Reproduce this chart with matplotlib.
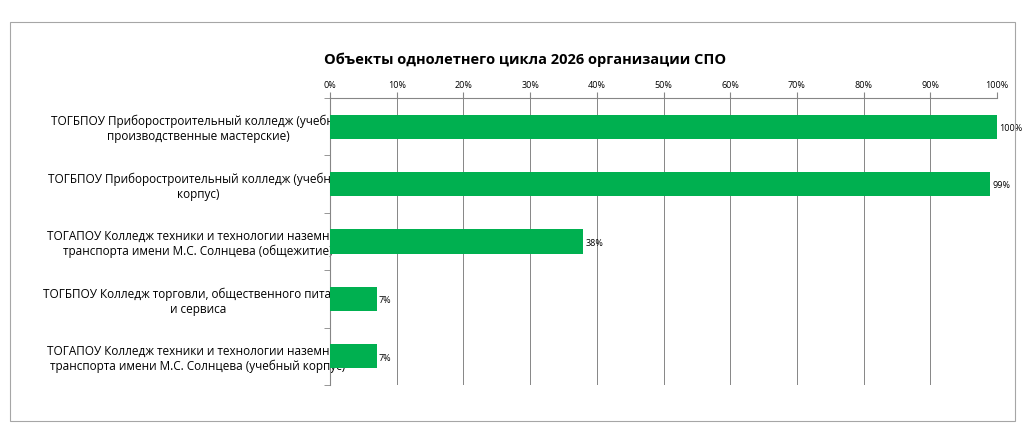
import numpy as np
import matplotlib.pyplot as plt
from matplotlib.patches import Rectangle

# ============================================================
# Data
# ============================================================
labels = [
    "ТОГБПОУ Приборостроительный колледж (учебно-\nпроизводственные мастерские)",
    "ТОГБПОУ Приборостроительный колледж (учебный\nкорпус)",
    "ТОГАПОУ Колледж техники и технологии наземного\nтранспорта имени М.С. Солнцева (общежитие)",
    "ТОГБПОУ Колледж торговли, общественного питания\nи сервиса",
    "ТОГАПОУ Колледж техники и технологии наземного\nтранспорта имени М.С. Солнцева (учебный корпус)",
]
values = [100, 99, 38, 7, 7]
ticks = list(range(0, 101, 10))
title = "Объекты однолетнего цикла 2026 организации СПО"

plt.rcParams['font.family'] = ['Open Sans', 'DejaVu Sans']

fig = plt.figure(figsize=(10.24, 4.45), dpi=100)
fig.patches.append(Rectangle((10 / 1024, 1 - 421 / 445), 1005 / 1024, 399 / 445,
                             transform=fig.transFigure, fill=False,
                             edgecolor="#a6a6a6", linewidth=0.8))
ax = fig.add_axes([330 / 1024, 1 - 385 / 445, 667 / 1024, 287 / 445])

y = np.arange(len(labels))
ax.barh(y, values, height=0.42, color="#00b050", zorder=3)
for yi, v in zip(y, values):
    ax.text(v + 0.3, yi + 0.03, f"{v}%", va="center", ha="left", fontsize=6.5, zorder=4)

ax.set_xlim(0, 100)
ax.set_ylim(len(labels) - 0.5, -0.5)
ax.xaxis.tick_top()
ax.set_xticks(ticks)
ax.set_xticklabels([f"{t}%" for t in ticks], fontsize=6.5)
ax.set_yticks(y)
ax.set_yticklabels(labels, fontsize=8.5, ha="center")
ax.tick_params(axis="y", length=0, pad=95)
ax.set_yticks(np.arange(-0.5, len(labels), 1), minor=True)
ax.tick_params(axis="y", which="minor", length=4, color="#868686")
ax.tick_params(axis="x", length=4, color="#868686", pad=2)
ax.grid(axis="x", color="#868686", linewidth=0.7, zorder=0)
for side in ["right", "bottom"]:
    ax.spines[side].set_visible(False)
for side in ["left", "top"]:
    ax.spines[side].set_color("#868686")

fig.text(525 / 1024, 1 - 60 / 445, title, ha="center", va="center",
         fontsize=10.5, fontweight="bold")

fig.savefig("out.png", dpi=100)
